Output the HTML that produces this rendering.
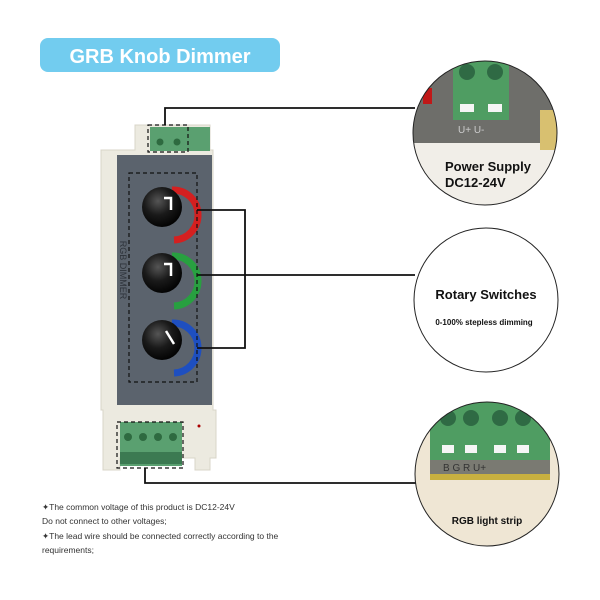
<!DOCTYPE html>
<html><head><meta charset="utf-8"><style>body{margin:0;background:#fff}svg{display:block}</style></head><body>
<svg width="600" height="600" viewBox="0 0 600 600" xmlns="http://www.w3.org/2000/svg" font-family="Liberation Sans, sans-serif">
<defs>
<clipPath id="c1"><circle cx="485" cy="133" r="72"/></clipPath>
<clipPath id="c3"><circle cx="487" cy="474" r="72"/></clipPath>
<radialGradient id="kn" cx="0.4" cy="0.35" r="0.7"><stop offset="0" stop-color="#555"/><stop offset="0.5" stop-color="#1a1a1a"/><stop offset="1" stop-color="#000"/></radialGradient>
</defs>
<rect x="40" y="38" width="240" height="34" rx="8" fill="#72ccef"/>
<text x="160" y="63" font-size="20" font-weight="bold" fill="#fff" text-anchor="middle">GRB Knob Dimmer</text>
<!-- device -->
<path d="M135 125 H210 V150 H213 V410 H216 V458 H210 V470 H195 V458 H120 V470 H103 V410 H101 V150 H135 Z" fill="#eceae0" stroke="#d8d5c8"/>
<rect x="150" y="127" width="60" height="24" fill="#5aa070"/>
<circle cx="160" cy="142" r="3.5" fill="#2e6a40"/><circle cx="177" cy="142" r="3.5" fill="#2e6a40"/>
<rect x="117" y="155" width="95" height="250" fill="#5b636d"/>
<text x="120" y="270" font-size="9" fill="#2e333a" transform="rotate(90 120 270)" text-anchor="middle">RGB DIMMER</text>
<g fill="none" stroke-width="7">
<path d="M172 190 A22 22 0 0 1 174 240" stroke="#d42020"/>
<path d="M172 256 A22 22 0 0 1 174 306" stroke="#28a040"/>
<path d="M172 323 A22 22 0 0 1 174 373" stroke="#1e4fc0"/>
</g>
<circle cx="162" cy="207" r="20" fill="url(#kn)"/>
<circle cx="162" cy="273" r="20" fill="url(#kn)"/>
<circle cx="162" cy="340" r="20" fill="url(#kn)"/>
<path d="M164 198 H171 V210" stroke="#fff" stroke-width="2.5" fill="none"/>
<path d="M164 264 H171 V276" stroke="#fff" stroke-width="2.5" fill="none"/>
<path d="M166 331 L174 344" stroke="#fff" stroke-width="2.5" fill="none"/>
<rect x="120" y="422" width="62" height="44" fill="#5aa070"/>
<g fill="#2e6a40"><circle cx="128" cy="437" r="4"/><circle cx="143" cy="437" r="4"/><circle cx="158" cy="437" r="4"/><circle cx="173" cy="437" r="4"/></g>
<rect x="120" y="452" width="62" height="12" fill="#3c7a52"/>
<circle cx="199" cy="426" r="1.5" fill="#a00"/>
<!-- dashed boxes -->
<g fill="none" stroke="#111" stroke-width="1.2" stroke-dasharray="4 3">
<rect x="148" y="125" width="40" height="27"/>
<rect x="129" y="173" width="68" height="209"/>
<rect x="117" y="422" width="66" height="46"/>
</g>
<!-- connectors -->
<g fill="none" stroke="#111" stroke-width="1.8">
<path d="M165 125 V108 H415"/>
<path d="M197 210 H245 V348 H197"/>
<path d="M197 275 H415"/>
<path d="M145 468 V483 H416"/>
</g>
<!-- circle 1 -->
<g clip-path="url(#c1)">
<rect x="410" y="60" width="150" height="150" fill="#f1eee8"/>
<rect x="410" y="60" width="150" height="83" fill="#6e6e6a"/>
<rect x="453" y="60" width="56" height="60" fill="#4f9d62"/>
<circle cx="467" cy="72" r="8" fill="#2f6a44"/><circle cx="495" cy="72" r="8" fill="#2f6a44"/>
<rect x="460" y="104" width="14" height="8" fill="#f5f5f5"/><rect x="488" y="104" width="14" height="8" fill="#f5f5f5"/>
<text x="458" y="133" font-size="10" fill="#ccc">U+ U-</text>
<rect x="423" y="88" width="9" height="16" fill="#c01818"/>
<rect x="540" y="110" width="20" height="40" fill="#d8c070"/>
</g>
<circle cx="485" cy="133" r="72" fill="none" stroke="#222" stroke-width="1"/>
<text x="445" y="171" font-size="13" font-weight="bold" fill="#111">Power Supply</text>
<text x="445" y="187" font-size="13" font-weight="bold" fill="#111">DC12-24V</text>
<!-- circle 2 -->
<circle cx="486" cy="300" r="72" fill="#fff" stroke="#222" stroke-width="1"/>
<text x="486" y="299" font-size="13" font-weight="bold" fill="#111" text-anchor="middle">Rotary Switches</text>
<text x="484" y="325" font-size="8" font-weight="bold" fill="#111" text-anchor="middle">0-100% stepless dimming</text>
<!-- circle 3 -->
<g clip-path="url(#c3)">
<rect x="410" y="400" width="160" height="150" fill="#efe6d4"/>
<rect x="430" y="400" width="120" height="60" fill="#4f9d62"/>
<g fill="#2f6a44"><circle cx="448" cy="418" r="8"/><circle cx="471" cy="418" r="8"/><circle cx="500" cy="418" r="8"/><circle cx="523" cy="418" r="8"/></g>
<g fill="#f5f5f5"><rect x="442" y="445" width="12" height="8"/><rect x="465" y="445" width="12" height="8"/><rect x="494" y="445" width="12" height="8"/><rect x="517" y="445" width="12" height="8"/></g>
<rect x="430" y="460" width="120" height="14" fill="#7a7a72"/>
<text x="443" y="471" font-size="10" fill="#333">B   G   R   U+</text>
<rect x="430" y="474" width="120" height="6" fill="#c8b040"/>
</g>
<circle cx="487" cy="474" r="72" fill="none" stroke="#222" stroke-width="1"/>
<text x="487" y="524" font-size="10" font-weight="bold" fill="#111" text-anchor="middle">RGB light strip</text>
<!-- notes -->
<g font-size="8.5" fill="#333">
<text x="42" y="510">✦The common voltage of this product is DC12-24V</text>
<text x="42" y="524">Do not connect to other voltages;</text>
<text x="42" y="539">✦The lead wire should be connected correctly according to the</text>
<text x="42" y="553">requirements;</text>
</g>
</svg>
</body></html>
